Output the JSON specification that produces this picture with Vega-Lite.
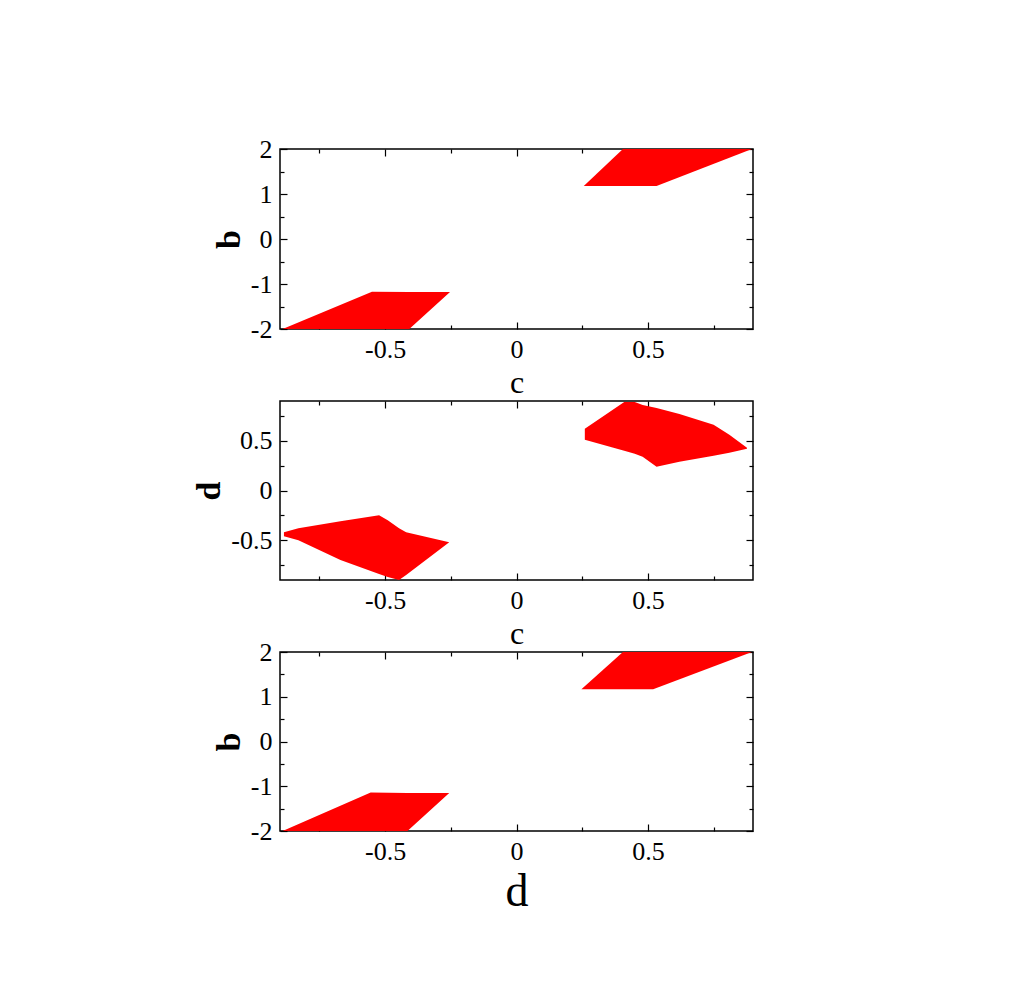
{
  "$schema": "https://vega.github.io/schema/vega-lite/v6.json",
  "background": "white",
  "padding": {"left": 192, "top": 135, "right": 5, "bottom": 5},
  "spacing": 72,
  "bounds": "flush",
  "config": {
    "view": {"stroke": "black", "strokeWidth": 1.5},
    "axis": {
      "labelFont": "Liberation Serif",
      "titleFont": "Liberation Serif",
      "labelFontSize": 26,
      "labelColor": "black",
      "titleColor": "black",
      "domain": false,
      "grid": false,
      "tickColor": "black",
      "tickWidth": 1.2
    }
  },
  "datasets": {
    "p1": [
      {"region": "A", "c": -0.89, "lo": -2.0, "hi": -2.0},
      {"region": "A", "c": -0.55, "lo": -2.0, "hi": -1.17},
      {"region": "A", "c": -0.408, "lo": -2.0, "hi": -1.18},
      {"region": "A", "c": -0.253, "lo": -1.18, "hi": -1.18},
      {"region": "B", "c": 0.256, "lo": 1.18, "hi": 1.18},
      {"region": "B", "c": 0.405, "lo": 1.18, "hi": 2.0},
      {"region": "B", "c": 0.533, "lo": 1.18, "hi": 2.0},
      {"region": "B", "c": 0.896, "lo": 2.0, "hi": 2.0}
    ],
    "p2": [
      {"region": "A", "c": -0.885, "lo": -0.46, "hi": -0.42},
      {"region": "A", "c": -0.83, "lo": -0.5, "hi": -0.38},
      {"region": "A", "c": -0.67, "lo": -0.7, "hi": -0.31},
      {"region": "A", "c": -0.523, "lo": -0.84, "hi": -0.25},
      {"region": "A", "c": -0.49, "lo": -0.87, "hi": -0.3},
      {"region": "A", "c": -0.447, "lo": -0.9, "hi": -0.38},
      {"region": "A", "c": -0.42, "lo": -0.85, "hi": -0.42},
      {"region": "A", "c": -0.256, "lo": -0.52, "hi": -0.52},
      {"region": "B", "c": 0.26, "lo": 0.51, "hi": 0.62},
      {"region": "B", "c": 0.41, "lo": 0.4, "hi": 0.89},
      {"region": "B", "c": 0.45, "lo": 0.37, "hi": 0.89},
      {"region": "B", "c": 0.48, "lo": 0.34, "hi": 0.86},
      {"region": "B", "c": 0.533, "lo": 0.24, "hi": 0.83},
      {"region": "B", "c": 0.62, "lo": 0.29, "hi": 0.77},
      {"region": "B", "c": 0.75, "lo": 0.35, "hi": 0.66},
      {"region": "B", "c": 0.81, "lo": 0.38, "hi": 0.56},
      {"region": "B", "c": 0.877, "lo": 0.42, "hi": 0.43}
    ],
    "p3": [
      {"region": "A", "d": -0.89, "lo": -2.0, "hi": -2.0},
      {"region": "A", "d": -0.555, "lo": -2.0, "hi": -1.14},
      {"region": "A", "d": -0.415, "lo": -2.0, "hi": -1.15},
      {"region": "A", "d": -0.256, "lo": -1.15, "hi": -1.15},
      {"region": "B", "d": 0.247, "lo": 1.17, "hi": 1.17},
      {"region": "B", "d": 0.405, "lo": 1.17, "hi": 2.0},
      {"region": "B", "d": 0.52, "lo": 1.17, "hi": 2.0},
      {"region": "B", "d": 0.896, "lo": 2.0, "hi": 2.0}
    ]
  },
  "vconcat": [
    {
      "width": 473,
      "height": 180,
      "data": {"name": "p1"},
      "layer": [
        {
          "mark": {"type": "area", "color": "#ff0000", "opacity": 1},
          "encoding": {
            "x": {"field": "c", "type": "quantitative", "scale": {"domain": [-0.9, 0.9], "nice": false, "zero": false},
              "axis": {"orient": "bottom", "values": [-0.75, -0.5, -0.25, 0, 0.25, 0.5, 0.75],
                "labelExpr": "datum.value == -0.5 ? '-0.5' : datum.value == 0 ? '0' : datum.value == 0.5 ? '0.5' : ''",
                "tickSize": {"condition": {"test": "abs(datum.value*2 - round(datum.value*2)) < 0.001", "value": -7}, "value": -4},
                "labelPadding": 14, "title": "c", "titleFontSize": 32, "titleFontWeight": "normal", "titlePadding": 5}},
            "y": {"field": "lo", "type": "quantitative", "scale": {"domain": [-2, 2], "nice": false, "zero": false},
              "axis": {"orient": "left", "values": [-2, -1.5, -1, -0.5, 0, 0.5, 1, 1.5, 2],
                "labelExpr": "datum.value == -2 ? '-2' : datum.value == -1 ? '-1' : datum.value == 0 ? '0' : datum.value == 1 ? '1' : datum.value == 2 ? '2' : ''",
                "tickSize": {"condition": {"test": "abs(datum.value - round(datum.value)) < 0.001", "value": -7}, "value": -4},
                "labelPadding": 15, "title": "b", "titleFontSize": 34, "titleFontWeight": "bold", "titlePadding": 4}},
            "y2": {"field": "hi"},
            "detail": {"field": "region"}
          }
        },
        {
          "mark": {"type": "area", "opacity": 0},
          "encoding": {
            "x": {"field": "c", "type": "quantitative", "scale": {"domain": [-0.9, 0.9], "nice": false, "zero": false},
              "axis": {"orient": "top", "values": [-0.75, -0.5, -0.25, 0, 0.25, 0.5, 0.75], "labels": false, "title": null,
                "tickSize": {"condition": {"test": "abs(datum.value*2 - round(datum.value*2)) < 0.001", "value": -7}, "value": -4}}},
            "y": {"field": "lo", "type": "quantitative", "scale": {"domain": [-2, 2], "nice": false, "zero": false},
              "axis": {"orient": "right", "values": [-2, -1.5, -1, -0.5, 0, 0.5, 1, 1.5, 2], "labels": false, "title": null,
                "tickSize": {"condition": {"test": "abs(datum.value - round(datum.value)) < 0.001", "value": -7}, "value": -4}}},
            "y2": {"field": "hi"},
            "detail": {"field": "region"}
          }
        }
      ],
      "resolve": {"axis": {"x": "independent", "y": "independent"}}
    },
    {
      "width": 473,
      "height": 179,
      "data": {"name": "p2"},
      "layer": [
        {
          "mark": {"type": "area", "color": "#ff0000", "opacity": 1},
          "encoding": {
            "x": {"field": "c", "type": "quantitative", "scale": {"domain": [-0.9, 0.9], "nice": false, "zero": false},
              "axis": {"orient": "bottom", "values": [-0.75, -0.5, -0.25, 0, 0.25, 0.5, 0.75],
                "labelExpr": "datum.value == -0.5 ? '-0.5' : datum.value == 0 ? '0' : datum.value == 0.5 ? '0.5' : ''",
                "tickSize": {"condition": {"test": "abs(datum.value*2 - round(datum.value*2)) < 0.001", "value": -7}, "value": -4},
                "labelPadding": 14, "title": "c", "titleFontSize": 32, "titleFontWeight": "normal", "titlePadding": 5}},
            "y": {"field": "lo", "type": "quantitative", "scale": {"domain": [-0.9, 0.9], "nice": false, "zero": false},
              "axis": {"orient": "left", "values": [-0.75, -0.5, -0.25, 0, 0.25, 0.5, 0.75],
                "labelExpr": "datum.value == -0.5 ? '-0.5' : datum.value == 0 ? '0' : datum.value == 0.5 ? '0.5' : ''",
                "tickSize": {"condition": {"test": "abs(datum.value*2 - round(datum.value*2)) < 0.001", "value": -7}, "value": -4},
                "labelPadding": 15, "title": "d", "titleFontSize": 34, "titleFontWeight": "bold", "titlePadding": 4}},
            "y2": {"field": "hi"},
            "detail": {"field": "region"}
          }
        },
        {
          "mark": {"type": "area", "opacity": 0},
          "encoding": {
            "x": {"field": "c", "type": "quantitative", "scale": {"domain": [-0.9, 0.9], "nice": false, "zero": false},
              "axis": {"orient": "top", "values": [-0.75, -0.5, -0.25, 0, 0.25, 0.5, 0.75], "labels": false, "title": null,
                "tickSize": {"condition": {"test": "abs(datum.value*2 - round(datum.value*2)) < 0.001", "value": -7}, "value": -4}}},
            "y": {"field": "lo", "type": "quantitative", "scale": {"domain": [-0.9, 0.9], "nice": false, "zero": false},
              "axis": {"orient": "right", "values": [-0.75, -0.5, -0.25, 0, 0.25, 0.5, 0.75], "labels": false, "title": null,
                "tickSize": {"condition": {"test": "abs(datum.value*2 - round(datum.value*2)) < 0.001", "value": -7}, "value": -4}}},
            "y2": {"field": "hi"},
            "detail": {"field": "region"}
          }
        }
      ],
      "resolve": {"axis": {"x": "independent", "y": "independent"}}
    },
    {
      "width": 473,
      "height": 179,
      "data": {"name": "p3"},
      "layer": [
        {
          "mark": {"type": "area", "color": "#ff0000", "opacity": 1},
          "encoding": {
            "x": {"field": "d", "type": "quantitative", "scale": {"domain": [-0.9, 0.9], "nice": false, "zero": false},
              "axis": {"orient": "bottom", "values": [-0.75, -0.5, -0.25, 0, 0.25, 0.5, 0.75],
                "labelExpr": "datum.value == -0.5 ? '-0.5' : datum.value == 0 ? '0' : datum.value == 0.5 ? '0.5' : ''",
                "tickSize": {"condition": {"test": "abs(datum.value*2 - round(datum.value*2)) < 0.001", "value": -7}, "value": -4},
                "labelPadding": 14, "title": "d", "titleFontSize": 46, "titleFontWeight": "normal", "titlePadding": 5}},
            "y": {"field": "lo", "type": "quantitative", "scale": {"domain": [-2, 2], "nice": false, "zero": false},
              "axis": {"orient": "left", "values": [-2, -1.5, -1, -0.5, 0, 0.5, 1, 1.5, 2],
                "labelExpr": "datum.value == -2 ? '-2' : datum.value == -1 ? '-1' : datum.value == 0 ? '0' : datum.value == 1 ? '1' : datum.value == 2 ? '2' : ''",
                "tickSize": {"condition": {"test": "abs(datum.value - round(datum.value)) < 0.001", "value": -7}, "value": -4},
                "labelPadding": 15, "title": "b", "titleFontSize": 34, "titleFontWeight": "bold", "titlePadding": 4}},
            "y2": {"field": "hi"},
            "detail": {"field": "region"}
          }
        },
        {
          "mark": {"type": "area", "opacity": 0},
          "encoding": {
            "x": {"field": "d", "type": "quantitative", "scale": {"domain": [-0.9, 0.9], "nice": false, "zero": false},
              "axis": {"orient": "top", "values": [-0.75, -0.5, -0.25, 0, 0.25, 0.5, 0.75], "labels": false, "title": null,
                "tickSize": {"condition": {"test": "abs(datum.value*2 - round(datum.value*2)) < 0.001", "value": -7}, "value": -4}}},
            "y": {"field": "lo", "type": "quantitative", "scale": {"domain": [-2, 2], "nice": false, "zero": false},
              "axis": {"orient": "right", "values": [-2, -1.5, -1, -0.5, 0, 0.5, 1, 1.5, 2], "labels": false, "title": null,
                "tickSize": {"condition": {"test": "abs(datum.value - round(datum.value)) < 0.001", "value": -7}, "value": -4}}},
            "y2": {"field": "hi"},
            "detail": {"field": "region"}
          }
        }
      ],
      "resolve": {"axis": {"x": "independent", "y": "independent"}}
    }
  ]
}
